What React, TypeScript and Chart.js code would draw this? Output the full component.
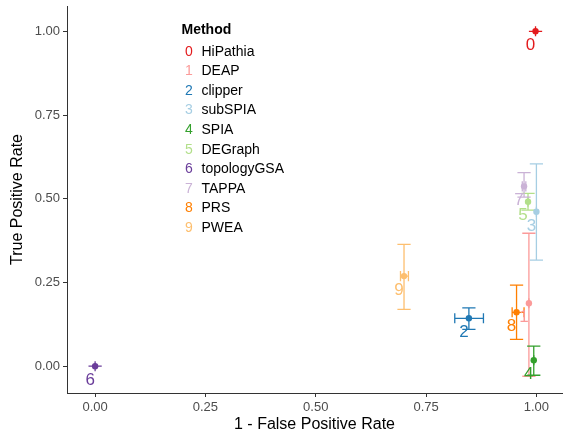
import React, { useEffect, useRef } from "react";
import { Chart, registerables } from "chart.js";

Chart.register(...registerables);

const methods = ["HiPathia", "DEAP", "clipper", "subSPIA", "SPIA", "DEGraph", "topologyGSA", "TAPPA", "PRS", "PWEA"];
const codes = ["0", "1", "2", "3", "4", "5", "6", "7", "8", "9"];
const colors = ["#E31A1C", "#FB9A99", "#1F78B4", "#A6CEE3", "#33A02C", "#B2DF8A", "#6A3D9A", "#CAB2D6", "#FF7F00", "#FDBF6F"];
// 1 - False Positive Rate
const specificity = [0.998, 0.983, 0.847, 1.0, 0.994, 0.981, 0.0, 0.972, 0.955, 0.7];
const xLow = [0.998, 0.983, 0.815, 1.0, 0.994, 0.981, 0.0, 0.968, 0.945, 0.692];
const xHigh = [0.998, 0.983, 0.88, 1.0, 0.994, 0.981, 0.0, 0.976, 0.972, 0.71];
// True Positive Rate
const sensitivity = [1.0, 0.188, 0.143, 0.461, 0.018, 0.491, 0.0, 0.537, 0.161, 0.269];
const yLow = [1.0, -0.03, 0.11, 0.317, -0.027, 0.466, 0.0, 0.505, 0.08, 0.17];
const yHigh = [1.0, 0.397, 0.174, 0.604, 0.06, 0.516, 0.0, 0.578, 0.242, 0.364];
const tickValues = [0, 0.25, 0.5, 0.75, 1];

const FONT = '"Liberation Sans", Arial, sans-serif';

const errorBarPlugin = {
  id: "errorBars",
  beforeDatasetsDraw(chart: any) {
    const { ctx, scales } = chart;
    const xs = scales.x;
    const ys = scales.y;
    ctx.save();
    ctx.lineWidth = 1.3;
    for (let i = 0; i < methods.length; i++) {
      ctx.strokeStyle = colors[i];
      const px = xs.getPixelForValue(specificity[i]);
      const py = ys.getPixelForValue(sensitivity[i]);
      // vertical bar
      const yl = ys.getPixelForValue(yLow[i]);
      const yh = ys.getPixelForValue(yHigh[i]);
      const capXl = xs.getPixelForValue(specificity[i] - 0.015);
      const capXr = xs.getPixelForValue(specificity[i] + 0.015);
      ctx.beginPath();
      ctx.moveTo(px, yl); ctx.lineTo(px, yh);
      ctx.moveTo(capXl, yl); ctx.lineTo(capXr, yl);
      ctx.moveTo(capXl, yh); ctx.lineTo(capXr, yh);
      ctx.stroke();
      // horizontal bar
      const xl = xs.getPixelForValue(xLow[i]);
      const xh = xs.getPixelForValue(xHigh[i]);
      const capYt = ys.getPixelForValue(sensitivity[i] + 0.015);
      const capYb = ys.getPixelForValue(sensitivity[i] - 0.015);
      ctx.beginPath();
      ctx.moveTo(xl, py); ctx.lineTo(xh, py);
      ctx.moveTo(xl, capYt); ctx.lineTo(xl, capYb);
      ctx.moveTo(xh, capYt); ctx.lineTo(xh, capYb);
      ctx.stroke();
    }
    ctx.restore();
  },
  afterDatasetsDraw(chart: any) {
    const { ctx, scales } = chart;
    ctx.save();
    ctx.font = `17px ${FONT}`;
    ctx.textAlign = "center";
    ctx.textBaseline = "middle";
    for (let i = 0; i < methods.length; i++) {
      const px = scales.x.getPixelForValue(specificity[i]);
      const py = scales.y.getPixelForValue(sensitivity[i]);
      ctx.fillStyle = colors[i];
      ctx.fillText(codes[i], px - 5, py + 14);
    }
    // legend
    ctx.textAlign = "left";
    ctx.fillStyle = "#000";
    ctx.font = `bold 14px ${FONT}`;
    ctx.fillText("Method", 181.5, 30);
    ctx.font = `14px ${FONT}`;
    for (let i = 0; i < methods.length; i++) {
      const y = 51.7 + i * 19.6;
      ctx.textAlign = "center";
      ctx.fillStyle = colors[i];
      ctx.fillText(codes[i], 189, y);
      ctx.textAlign = "left";
      ctx.fillStyle = "#000";
      ctx.fillText(methods[i], 201.5, y);
    }
    ctx.restore();
  },
};

export default function App() {
  const ref = useRef<HTMLCanvasElement>(null);
  useEffect(() => {
    if (!ref.current) return;
    const chart = new Chart(ref.current, {
      type: "scatter",
      data: {
        datasets: [
          {
            data: specificity.map((x, i) => ({ x, y: sensitivity[i] })),
            pointBackgroundColor: colors,
            pointBorderColor: colors,
            pointRadius: 3.2,
            pointBorderWidth: 0,
          },
        ],
      },
      plugins: [errorBarPlugin],
      options: {
        animation: false,
        responsive: true,
        maintainAspectRatio: false,
        layout: { padding: { top: 6, right: -1, left: 0, bottom: 0 } },
        plugins: { legend: { display: false }, tooltip: { enabled: false } },
        scales: {
          x: {
            type: "linear",
            min: -0.0637,
            max: 1.058,
            afterFit: (s: any) => { s.height = 41; s.paddingLeft = 0; s.paddingRight = 0; },
            afterBuildTicks: (s: any) => { s.ticks = tickValues.map((v) => ({ value: v })); },
            border: { display: true, color: "#333", width: 1 },
            grid: { drawOnChartArea: false, drawTicks: true, tickLength: 4, color: "#333" },
            ticks: {
              padding: 3,
              color: "#4d4d4d",
              font: { family: FONT, size: 13 },
              callback: (v: any) => Number(v).toFixed(2),
            },
            title: {
              display: true,
              text: "1 - False Positive Rate",
              color: "#000",
              font: { family: FONT, size: 16 },
              padding: { top: 0, bottom: 0 },
            },
          },
          y: {
            type: "linear",
            min: -0.08,
            max: 1.0756,
            afterFit: (s: any) => { s.width = 67; s.paddingTop = 0; s.paddingBottom = 0; },
            afterBuildTicks: (s: any) => { s.ticks = tickValues.map((v) => ({ value: v })); },
            border: { display: true, color: "#333", width: 1 },
            grid: { drawOnChartArea: false, drawTicks: true, tickLength: 4, color: "#333" },
            ticks: {
              padding: 3,
              color: "#4d4d4d",
              font: { family: FONT, size: 13 },
              callback: (v: any) => Number(v).toFixed(2),
            },
            title: {
              display: true,
              text: "True Positive Rate",
              color: "#000",
              font: { family: FONT, size: 16 },
              padding: { top: 8, bottom: 0 },
            },
          },
        },
      },
    });
    return () => chart.destroy();
  }, []);
  return (
    <div style={{ position: "fixed", left: 0, top: 0, width: 566, height: 434, background: "#fff" }}>
      <canvas ref={ref} />
    </div>
  );
}
